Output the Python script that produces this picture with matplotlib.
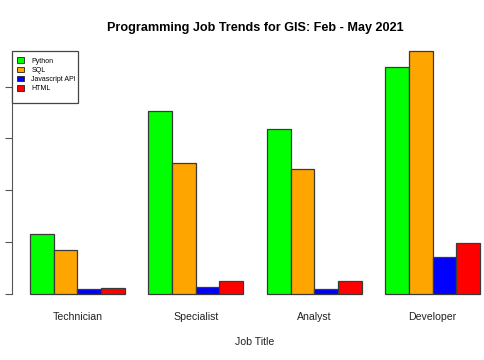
import numpy as np
import matplotlib
matplotlib.use("Agg")
import matplotlib.pyplot as plt
from matplotlib.patches import Patch, Rectangle

plt.rcParams["font.family"] = ["Liberation Sans", "DejaVu Sans"]

jobs = ["Technician", "Specialist", "Analyst", "Developer"]
languages = ["Python", "SQL", "Javascript API", "HTML"]
colors = ["#00FF00", "#FFA500", "#0000FF", "#FF0000"]
python = [11.5, 35.2, 31.8, 43.9]
sql = [8.4, 25.2, 24.1, 46.9]
js_api = [0.9, 1.2, 0.8, 7.0]
html = [1.1, 2.4, 2.5, 9.8]
yticks = [0, 10, 20, 30, 40]

series = [python, sql, js_api, html]
W, H = 485, 360
fig = plt.figure(figsize=(W / 100, H / 100), dpi=100)
# plot region in pixels (R style, extends past right edge like the original)
left, right, top, bottom = 12, 498, 41.3, 303.2
ax = fig.add_axes([left / W, 1 - bottom / H, (right - left) / W, (bottom - top) / H])

n = len(series)
for i, (vals, col) in enumerate(zip(series, colors)):
    xs = [1 + g * (n + 1) + i for g in range(len(jobs))]
    ax.bar(xs, vals, width=1, align="edge", color=col, edgecolor="#3a3a3a", linewidth=0.9)

ymax = max(max(s) for s in series)
ax.set_ylim(-0.04 * ymax, 1.04 * ymax)
xmin, xmax = 1, len(jobs) * (n + 1)
ax.set_xlim(xmin - 0.04 * (xmax - xmin), xmax + 0.04 * (xmax - xmin))

for s in ["top", "right", "bottom"]:
    ax.spines[s].set_visible(False)
ax.spines["left"].set_bounds(yticks[0], yticks[-1])
ax.spines["left"].set_color("#555555")
ax.set_yticks(yticks)
ax.tick_params(axis="y", length=5, color="#555555", labelleft=False)

centers = [1 + g * (n + 1) + n / 2 for g in range(len(jobs))]
ax.set_xticks(centers)
ax.set_xticklabels(jobs, fontsize=7.6, color="#222222")
ax.tick_params(axis="x", length=0, pad=6)
ax.set_xlabel("Job Title", fontsize=7.6, color="#222222", labelpad=11)
ax.set_title("Programming Job Trends for GIS: Feb - May 2021", fontsize=9.1,
             fontweight="bold", pad=7.5)

# legend box drawn R-style: extra room at the bottom
fig.patches.append(Rectangle((left / W, 1 - 103.3 / H), 66.3 / W, 52.6 / H,
                             transform=fig.transFigure, facecolor="white",
                             edgecolor="#444444", linewidth=0.9, zorder=5))
handles = [Patch(facecolor=c, edgecolor="#222222", linewidth=0.6) for c in colors]
leg = fig.legend(handles, languages, loc="upper left",
                 bbox_to_anchor=(17.5 / W, 1 - 57.5 / H), fontsize=5,
                 handlelength=0.9, handleheight=0.9, handletextpad=1.1,
                 labelspacing=0.26, borderpad=0, borderaxespad=0,
                 frameon=False)
leg.set_zorder(6)

fig.savefig("out.png", dpi=100)
